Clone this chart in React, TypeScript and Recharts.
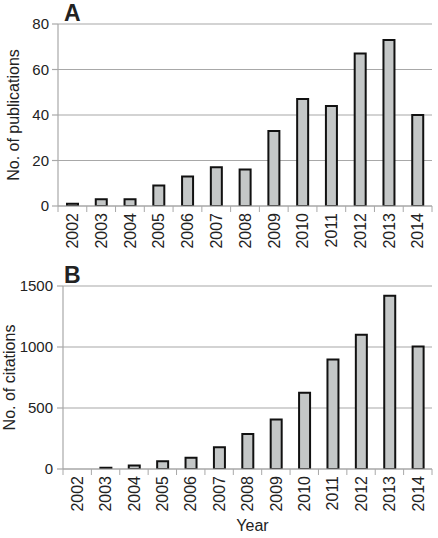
import { BarChart, Bar, XAxis, YAxis, CartesianGrid } from "recharts";

const years = ["2002", "2003", "2004", "2005", "2006", "2007", "2008", "2009", "2010", "2011", "2012", "2013", "2014"];
const publications = [1, 3, 3, 9, 13, 17, 16, 33, 47, 44, 67, 73, 40];
const citations = [0, 11, 28, 63, 93, 178, 287, 405, 624, 898, 1100, 1420, 1005];
const pubTicks = [0, 20, 40, 60, 80];
const citeTicks = [0, 500, 1000, 1500];

const pubData = years.map((year, i) => ({ year, value: publications[i] }));
const citeData = years.map((year, i) => ({ year, value: citations[i] }));

const WIDTH = 438;
const RIGHT = 6;
const FONT = "'Liberation Sans', Arial, sans-serif";
const TEXT = "#222";
const GRID = "#a8a8a8";

// rotated year label plus the boundary tick marks between categories
function YearTick(props: any) {
  const { x, y, payload, index, band } = props;
  const axisY = y - 6;
  const left = x - band / 2;
  return (
    <g>
      <line x1={left} x2={left} y1={axisY} y2={axisY + 6} stroke={GRID} strokeWidth={1} />
      {index === years.length - 1 && (
        <line x1={x + band / 2} x2={x + band / 2} y1={axisY} y2={axisY + 6} stroke={GRID} strokeWidth={1} />
      )}
      <text
        x={x}
        y={axisY + 7}
        transform={`rotate(-90, ${x}, ${axisY + 7})`}
        textAnchor="end"
        dy="0.36em"
        fill={TEXT}
        fontSize={16}
        fontFamily={FONT}
      >
        {payload.value}
      </text>
    </g>
  );
}

function Panel(props: {
  data: { year: string; value: number }[];
  height: number;
  top: number;
  axisHeight: number;
  axisWidth: number;
  tickGap: number;
  domain: [number, number];
  ticks: number[];
  yLabel: string;
  yLabelX: number;
  letter: string;
  xLabel?: string;
}) {
  const { data, height, top, axisHeight, axisWidth, tickGap, domain, ticks, yLabel, yLabelX, letter, xLabel } = props;
  const band = (WIDTH - axisWidth - RIGHT) / years.length;
  return (
    <div style={{ position: "relative", width: WIDTH, height }}>
      <BarChart
        width={WIDTH}
        height={height}
        data={data}
        margin={{ top, right: RIGHT, bottom: 0, left: 0 }}
        barSize={11}
      >
        <CartesianGrid vertical={false} stroke={GRID} strokeWidth={1.2} />
        <XAxis
          dataKey="year"
          height={axisHeight}
          axisLine={{ stroke: GRID, strokeWidth: 1.2 }}
          tickLine={false}
          tickSize={6}
          tickMargin={0}
          interval={0}
          tick={<YearTick band={band} />}
          label={
            xLabel
              ? { value: xLabel, position: "insideBottom", offset: 7, dx: 5, fill: TEXT, fontSize: 16, fontFamily: FONT }
              : undefined
          }
        />
        <YAxis
          width={axisWidth}
          domain={domain}
          ticks={ticks}
          allowDataOverflow
          axisLine={{ stroke: GRID, strokeWidth: 1.2 }}
          tickLine={{ stroke: GRID, strokeWidth: 1.2 }}
          tickSize={6}
          tickMargin={tickGap}
          tick={{ fill: TEXT, fontSize: 15, fontFamily: FONT }}
          label={{
            value: yLabel,
            angle: -90,
            position: "insideLeft",
            offset: 0,
            dx: yLabelX,
            style: { textAnchor: "middle" },
            fill: TEXT,
            fontSize: 16,
            fontFamily: FONT,
          }}
        />
        <Bar dataKey="value" fill="#c4c7c7" stroke="#111" strokeWidth={2} isAnimationActive={false} />
      </BarChart>
      <div
        style={{
          position: "absolute",
          left: 64,
          top: top - 22,
          fontFamily: FONT,
          fontWeight: 700,
          fontSize: 23,
          lineHeight: "22px",
          color: TEXT,
        }}
      >
        {letter}
      </div>
    </div>
  );
}

export default function App() {
  return (
    <div style={{ position: "absolute", left: 0, top: 0, width: WIDTH, height: 538, background: "#fff" }}>
      <Panel
        data={pubData}
        height={258}
        top={24}
        axisHeight={52}
        axisWidth={58}
        tickGap={3}
        domain={[0, 80]}
        ticks={pubTicks}
        yLabel="No. of publications"
        yLabelX={13}
        letter="A"
      />
      <Panel
        data={citeData}
        height={280}
        top={28}
        axisHeight={69}
        axisWidth={63}
        tickGap={4}
        domain={[0, 1500]}
        ticks={citeTicks}
        yLabel="No. of citations"
        yLabelX={9}
        letter="B"
        xLabel="Year"
      />
    </div>
  );
}
